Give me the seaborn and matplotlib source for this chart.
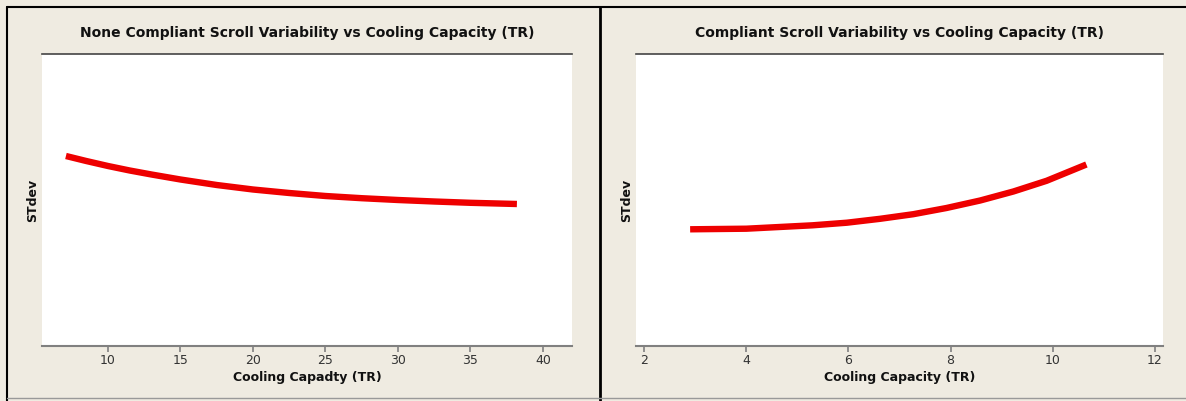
import numpy as np
import pandas as pd
import seaborn as sns
import matplotlib.pyplot as plt
from matplotlib.lines import Line2D

# data (y axis has no scale, values are relative STdev)
nc_capacity = [7.1, 8.5, 10, 11.5, 13, 15, 17.5, 20, 22.5, 25, 27.5, 30, 32.5, 35, 38.2]
nc_stdev = [1.90, 1.85, 1.80, 1.755, 1.715, 1.665, 1.61, 1.565, 1.53, 1.50,
            1.478, 1.46, 1.445, 1.432, 1.42]

c_capacity = [2.9, 4.0, 5.3, 5.97, 6.62, 7.27, 7.92, 8.58, 9.23, 9.88, 10.66]
c_stdev = [1.167, 1.173, 1.207, 1.233, 1.272, 1.318, 1.38, 1.455, 1.545, 1.652, 1.815]

titles = ["None Compliant Scroll Variability vs Cooling Capacity (TR)",
          "Compliant Scroll Variability vs Cooling Capacity (TR)"]
xlabels = ["Cooling Capadty (TR)", "Cooling Capacity (TR)"]
xticks_nc = [10, 15, 20, 25, 30, 35, 40]
xticks_c = [2, 4, 6, 8, 10, 12]

sns.set_theme(style="white")
plt.rcParams['font.family'] = ['DejaVu Sans']

bg = "#EFEBE1"
fig = plt.figure(figsize=(11.86, 4.01), dpi=100, facecolor=bg)

W, H = 1186, 401
ax1 = fig.add_axes([42 / W, 55 / H, 530 / W, 292 / H])
ax2 = fig.add_axes([636 / W, 55 / H, 527 / W, 292 / H])

df1 = pd.DataFrame({"Cooling Capacity": nc_capacity, "STdev": nc_stdev})
df2 = pd.DataFrame({"Cooling Capacity": c_capacity, "STdev": c_stdev})

panels = [(ax1, df1, (5.45, 42.0), xticks_nc),
          (ax2, df2, (1.84, 12.16), xticks_c)]

for i, (ax, df, xl, xt) in enumerate(panels):
    sns.lineplot(data=df, x="Cooling Capacity", y="STdev", ax=ax,
                 color="#EE0000", linewidth=4.6, sort=False,
                 solid_capstyle="butt", solid_joinstyle="round")
    ax.set_facecolor("white")
    ax.set_xlim(*xl)
    ax.set_ylim(0, 2.92)
    ax.set_xticks(xt)
    ax.set_yticks([])
    for s in ["left", "right"]:
        ax.spines[s].set_visible(False)
    ax.spines["top"].set_color("#444444")
    ax.spines["top"].set_linewidth(1.2)
    ax.spines["bottom"].set_color("#808080")
    ax.spines["bottom"].set_linewidth(1.5)
    ax.tick_params(axis="x", bottom=True, length=4, width=1.2, color="#808080",
                   labelsize=9, labelcolor="#333333", pad=2)
    ax.set_title(titles[i], fontsize=10, fontweight="bold", color="#111111", pad=12)
    ax.set_xlabel(xlabels[i], fontsize=9, fontweight="bold", color="#111111", labelpad=3)
    ax.set_ylabel("STdev", fontsize=9, fontweight="bold", color="#111111", labelpad=2)

# outer frame like pasted screenshots
fig.add_artist(Line2D([7 / W, 7 / W], [0, 1 - 7 / H], color="black", lw=1.5))
fig.add_artist(Line2D([7 / W, 1], [1 - 7 / H, 1 - 7 / H], color="black", lw=1.5))
fig.add_artist(Line2D([600 / W, 600 / W], [0, 1 - 7 / H], color="black", lw=2))
fig.add_artist(Line2D([7 / W, 1], [3 / H, 3 / H], color="#999999", lw=1))

fig.savefig("out.png", dpi=100, facecolor=bg)
